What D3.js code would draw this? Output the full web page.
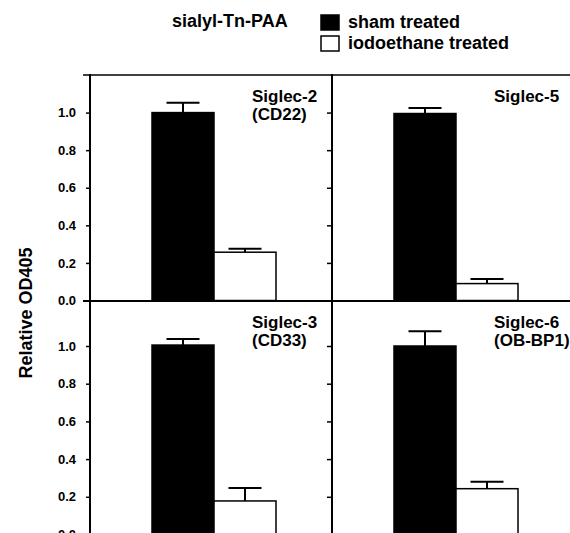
<!DOCTYPE html>
<html lang="en">
<head>
  <meta charset="utf-8">
  <title>Siglec binding - sialyl-Tn-PAA</title>
  <style>
    body { margin: 0; background: #fff; }
    svg { display: block; }
    text { font-family: "Liberation Sans", Arial, Helvetica, sans-serif; font-weight: bold; fill: #000; }
  </style>
</head>
<body>
  <svg id="chart" width="570" height="533"></svg>
  <script src="https://d3js.org/d3.v7.min.js"></script>
  <script>

    // data
    var panels = ["Siglec-2", "Siglec-5", "Siglec-3", "Siglec-6"];
    var subLabels = ["(CD22)", "", "(CD33)", "(OB-BP1)"];
    var groups = ["sham treated", "iodoethane treated"];
    var shamValues = [1.00, 0.995, 1.005, 1.00];
    var shamErrors = [0.052, 0.030, 0.032, 0.078];
    var iodoValues = [0.257, 0.090, 0.178, 0.243];
    var iodoErrors = [0.018, 0.025, 0.069, 0.037];
    var tickValues = [0, 0.2, 0.4, 0.6, 0.8, 1.0];

    var svg = d3.select("#chart");

    // layout: two columns, two rows
    var colX = [90, 332];
    var colRight = 570;
    var rowTop = [75, 301];
    var yScales = [
      d3.scaleLinear().domain([0, 1.2]).range([300.5, 75]),
      d3.scaleLinear().domain([0, 1.0]).range([534.5, 346])
    ];
    var fills = ["#000", "#fff"];

    // frame lines
    var frame = svg.append("g").attr("class", "frame")
      .style("stroke", "#000").style("fill", "none");
    frame.append("line").attr("x1", 83).attr("x2", colRight).attr("y1", 75).attr("y2", 75).style("stroke-width", 1.5);
    frame.append("line").attr("x1", 83).attr("x2", colRight).attr("y1", 301).attr("y2", 301).style("stroke-width", 2);
    frame.append("line").attr("x1", 90).attr("x2", 90).attr("y1", 74).attr("y2", 533).style("stroke-width", 2);
    frame.append("line").attr("x1", 332).attr("x2", 332).attr("y1", 74).attr("y2", 533).style("stroke-width", 2);

    // axes for each row
    yScales.forEach(function (y, r) {
      var left = svg.append("g")
        .attr("class", "axis")
        .attr("transform", "translate(90,0)")
        .call(d3.axisLeft(y).tickValues(tickValues).tickFormat(d3.format(".1f")).tickSize(4).tickPadding(10));
      left.select(".domain").remove();
      left.selectAll(".tick line").style("stroke", "#000").style("stroke-width", 1.5);
      left.selectAll(".tick text")
        .style("font-family", "'Liberation Sans', Arial, sans-serif")
        .style("font-weight", "bold")
        .style("font-size", "13px");

      var mid = svg.append("g")
        .attr("class", "axis")
        .attr("transform", "translate(332,0)")
        .call(d3.axisLeft(y).tickValues(tickValues.slice(1)).tickFormat("").tickSize(5));
      mid.select(".domain").remove();
      mid.selectAll(".tick line").style("stroke", "#000").style("stroke-width", 1.5);
    });

    // bars
    panels.forEach(function (name, i) {
      var col = i % 2, row = Math.floor(i / 2);
      var y = yScales[row];
      var x = d3.scaleBand().domain(groups).range([colX[col] + 62, colX[col] + 186]).padding(0);
      var vals = [shamValues[i], iodoValues[i]];
      var errs = [shamErrors[i], iodoErrors[i]];
      var bars = groups.map(function (g, k) {
        return { group: g, value: vals[k], err: errs[k], fill: fills[k] };
      });

      var g = svg.append("g").attr("class", "panel");

      // error bars (upward only)
      g.selectAll(".err")
        .data(bars)
        .enter()
        .append("path")
        .attr("class", "err")
        .attr("d", function (d) {
          var cx = x(d.group) + x.bandwidth() / 2;
          var cap = 33;
          return "M" + cx + "," + y(d.value) + "V" + y(d.value + d.err) +
                 "M" + (cx - cap / 2) + "," + y(d.value + d.err) + "H" + (cx + cap / 2);
        })
        .style("stroke", "#000")
        .style("stroke-width", 2)
        .style("fill", "none");

      g.selectAll(".bar")
        .data(bars)
        .enter()
        .append("rect")
        .attr("class", "bar")
        .attr("x", function (d) { return x(d.group); })
        .attr("width", x.bandwidth())
        .attr("y", function (d) { return y(d.value); })
        .attr("height", function (d) { return y(0) - y(d.value); })
        .style("fill", function (d) { return d.fill; })
        .style("stroke", "#000")
        .style("stroke-width", 1.5);

      var lx = colX[col] + 162;
      g.append("text")
        .attr("x", lx)
        .attr("y", rowTop[row] + 27)
        .style("font-size", "17px")
        .text(name);
      if (subLabels[i] !== "") {
        g.append("text")
          .attr("x", lx)
          .attr("y", rowTop[row] + 45)
          .style("font-size", "17px")
          .text(subLabels[i]);
      }
    });

    // y axis title
    svg.append("text")
      .attr("transform", "translate(32,313) rotate(-90)")
      .attr("text-anchor", "middle")
      .style("font-size", "18px")
      .text("Relative OD405");

    // title and legend
    svg.append("text")
      .attr("x", 172)
      .attr("y", 27)
      .style("font-size", "18px")
      .text("sialyl-Tn-PAA");

    var legend = svg.append("g").attr("class", "legend");
    groups.forEach(function (name, k) {
      legend.append("rect")
        .attr("x", 321)
        .attr("y", 15 + k * 21)
        .attr("width", 18)
        .attr("height", 15)
        .style("fill", fills[k])
        .style("stroke", "#000")
        .style("stroke-width", 1.5);
      legend.append("text")
        .attr("x", 348)
        .attr("y", 28 + k * 21)
        .style("font-size", "18px")
        .text(name);
    });

  </script>
</body>
</html>
